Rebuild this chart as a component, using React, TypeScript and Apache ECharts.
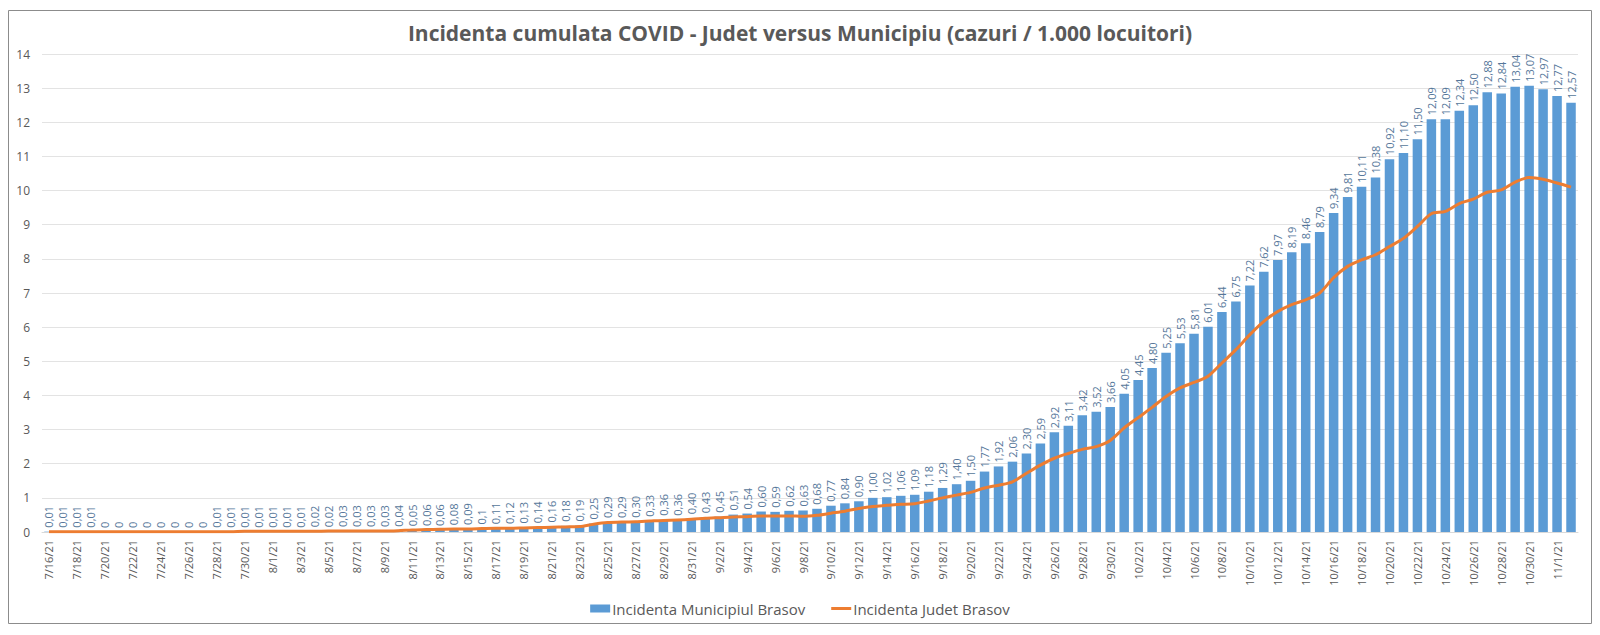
import { useEffect, useRef } from "react";
import * as echarts from "echarts";

// Incidenta cumulata (cazuri / 1.000 locuitori), 7/16/21 - 11/2/21
const startDay = new Date(2021, 6, 16);
const dayCount = 110;

const municipiu = [
  0.01, 0.01, 0.01, 0.01, 0, 0, 0, 0, 0, 0, 0, 0,
  0.01, 0.01, 0.01, 0.01, 0.01, 0.01, 0.01, 0.02, 0.02,
  0.03, 0.03, 0.03, 0.03, 0.04, 0.05, 0.06, 0.06, 0.08, 0.09, 0.1,
  0.11, 0.12, 0.13, 0.14, 0.16, 0.18, 0.19,
  0.25, 0.29, 0.29, 0.3, 0.33, 0.36, 0.36,
  0.4, 0.43, 0.45, 0.51, 0.54, 0.6, 0.59,
  0.62, 0.63, 0.68, 0.77, 0.84, 0.9,
  1.0, 1.02, 1.06, 1.09, 1.18, 1.29, 1.4, 1.5,
  1.77, 1.92, 2.06, 2.3, 2.59, 2.92, 3.11, 3.42, 3.52, 3.66,
  4.05, 4.45, 4.8, 5.25, 5.53, 5.81, 6.01, 6.44, 6.75,
  7.22, 7.62, 7.97, 8.19, 8.46, 8.79, 9.34, 9.81,
  10.11, 10.38, 10.92, 11.1, 11.5,
  12.09, 12.09, 12.34, 12.5, 12.88, 12.84, 13.04, 13.07, 12.97, 12.77, 12.57,
];

const judet = [
  0.01, 0.01, 0.01, 0.01, 0.01, 0.01, 0.01, 0.01, 0.01, 0.01, 0.01, 0.01,
  0.01, 0.01, 0.02, 0.02, 0.02, 0.02, 0.02,
  0.02, 0.03, 0.03, 0.03, 0.03, 0.03,
  0.04, 0.06, 0.07, 0.08, 0.09, 0.09, 0.1, 0.11, 0.11, 0.12, 0.13,
  0.14, 0.15, 0.16, 0.23, 0.28, 0.29, 0.3, 0.32, 0.34, 0.35,
  0.37, 0.4, 0.42, 0.44, 0.45, 0.47, 0.47, 0.47, 0.46, 0.49,
  0.55, 0.61, 0.69, 0.75, 0.78, 0.81, 0.83, 0.91, 1.0, 1.08,
  1.16, 1.29, 1.37, 1.47, 1.72, 1.96, 2.16, 2.3, 2.42, 2.5,
  2.68, 3.05, 3.35, 3.65, 3.97, 4.22, 4.38, 4.56, 4.95, 5.34,
  5.78, 6.17, 6.46, 6.66, 6.8, 7.0, 7.45, 7.78, 7.97, 8.12,
  8.36, 8.6, 8.95, 9.32, 9.39, 9.62, 9.75, 9.95, 10.02, 10.25,
  10.38, 10.33, 10.22, 10.1,
];

// labels before this index are shown in "general" format (0,01 / 0 / 0,1)
const fixedLabelsFrom = 39;

const days: string[] = [];
for (let i = 0; i < dayCount; i++) {
  const d = new Date(startDay);
  d.setDate(d.getDate() + i);
  days.push(`${d.getMonth() + 1}/${d.getDate()}/21`);
}

const fontFamily = "'Open Sans', 'Noto Sans', sans-serif";
const textGray = "#595959";

const formatLabel = (value: number, index: number) =>
  (index < fixedLabelsFrom ? String(value) : value.toFixed(2)).replace(".", ",");

const App = () => {
  const chartRef = useRef<HTMLDivElement | null>(null);

  useEffect(() => {
    document.body.style.margin = "0";
    if (!chartRef.current) return;
    const chart = echarts.init(chartRef.current, null, { renderer: "svg" });

    chart.setOption({
      animation: false,
      textStyle: { fontFamily },
      title: {
        text: "Incidenta cumulata COVID - Judet versus Municipiu (cazuri / 1.000 locuitori)",
        left: "center",
        top: 17,
        textStyle: { color: textGray, fontSize: 21, fontWeight: "bold", fontFamily },
      },
      graphic: [
        {
          type: "rect",
          shape: { x: 8.5, y: 10.5, width: 1583, height: 613 },
          style: { fill: "none", stroke: "#8c8c8c", lineWidth: 1 },
          silent: true,
        },
      ],
      legend: {
        top: 596,
        left: "center",
        itemWidth: 20,
        itemHeight: 8,
        itemGap: 26,
        textStyle: { color: textGray, fontSize: 15, fontFamily, padding: [0, 0, 0, -3] },
        data: [
          { name: "Incidenta Municipiul Brasov", icon: "rect" },
          { name: "Incidenta Judet Brasov", icon: "path://M0,0h20v3h-20z" },
        ],
      },
      grid: { left: 42, right: 22, top: 54, bottom: 103 },
      xAxis: {
        type: "category",
        data: days,
        axisLine: { lineStyle: { color: "#d9d9d9" } },
        axisTick: { show: false },
        axisLabel: {
          interval: 1,
          rotate: 90,
          color: textGray,
          fontSize: 11,
          margin: 8,
        },
      },
      yAxis: {
        type: "value",
        min: 0,
        max: 14,
        interval: 1,
        axisLine: { show: false },
        axisTick: { show: false },
        axisLabel: { color: textGray, fontSize: 12, margin: 12 },
        splitLine: { lineStyle: { color: "#e3e3e3" } },
      },
      series: [
        {
          name: "Incidenta Municipiul Brasov",
          type: "bar",
          data: municipiu,
          barWidth: "68%",
          itemStyle: { color: "#5b9bd5" },
          label: {
            show: true,
            position: "top",
            rotate: 90,
            align: "left",
            verticalAlign: "middle",
            distance: 4,
            color: "#56779a",
            fontSize: 11,
            formatter: (p: { value: number; dataIndex: number }) => formatLabel(p.value, p.dataIndex),
          },
        },
        {
          name: "Incidenta Judet Brasov",
          type: "line",
          data: judet,
          smooth: 0.3,
          symbol: "none",
          lineStyle: { color: "#ed7d31", width: 3 },
          itemStyle: { color: "#ed7d31" },
          z: 3,
        },
      ],
    });

    return () => chart.dispose();
  }, []);

  return <div ref={chartRef} style={{ width: 1600, height: 635 }} />;
};

export default App;
